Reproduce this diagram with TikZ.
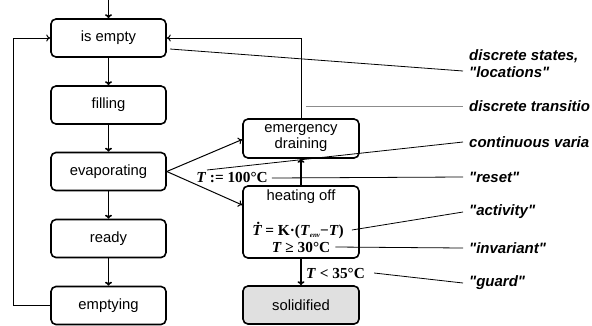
\documentclass[tikz,border=0pt]{standalone}
\usepackage{fontspec}
\setmainfont{Liberation Sans}
\newfontfamily\timesfont{Liberation Serif}
\usetikzlibrary{arrows.meta,calc}

\begin{document}
\begin{tikzpicture}[x=1pt,y=-1pt,
  zustand/.style={draw,line width=1.6pt,rounded corners=5pt,minimum width=115pt,minimum height=38pt,
    align=center,inner sep=1pt,font=\fontsize{14.8}{16}\selectfont},
  pfeil/.style={line width=1.6pt,-{To[length=4pt,width=7pt]}},
  duenn/.style={line width=1pt,-{To[length=4pt,width=7pt]}},
  hinweis/.style={line width=0.8pt},
  notiz/.style={anchor=west,inner sep=0pt,align=left,font=\fontsize{15}{17}\selectfont\bfseries\itshape},
  formel/.style={inner sep=0pt,font=\fontsize{15.3}{17}\selectfont\timesfont\bfseries}]

  \useasboundingbox (0,0) rectangle (592,325);

  \pgfmathsetmacro{\links}{108.5}
  \pgfmathsetmacro{\rechts}{301}

  % linke Spalte
  \node[zustand] (leer) at (\links,38) {is empty};
  \node[zustand] (fuellen) at (\links,105) {filling};
  \node[zustand] (verdampfen) at (\links,171.5) {evaporating};
  \node[zustand] (bereit) at (\links,238.5) {ready};
  \node[zustand] (entleeren) at (\links,305.5) {emptying};

  % rechte Spalte
  \node[zustand,minimum width=116pt,minimum height=39pt] (notablass) at (\rechts,138.5) {emergency\\draining};
  \node[zustand,minimum width=116pt,minimum height=72pt] (heizaus) at (\rechts,222) {};
  \node[zustand,minimum width=116pt,fill=black!12] (fest) at (\rechts,305) {solidified};

  \node[font=\fontsize{14.8}{16}\selectfont,inner sep=0pt] (heiztitel) at (\rechts,197) {heating off};
  \node[formel] (aktiv) at (298,230) {{\itshape\.{T}} = K·(\textit{T}\raisebox{-2.5pt}{\fontsize{7}{7}\selectfont\itshape env}−\textit{T})};
  \node[formel] (invar) at (\rechts,247) {\textit{T} ≥ 30°C};
  \node[formel] (ruecksetz) at (232,178) {\textit{T} := 100°C};
  \node[formel,anchor=west] (waechter) at (306,273) {\textit{T} < 35°C};

  \coordinate (start) at (\links,0);
  \draw[pfeil] (start) -- (leer);
  \draw[pfeil] (leer) -- (fuellen);
  \draw[pfeil] (fuellen) -- (verdampfen);
  \draw[pfeil] (verdampfen) -- (bereit);
  \draw[pfeil] (bereit) -- (entleeren);
  \draw[duenn] (entleeren.west) -- ++(-37,0) |- (leer.west);

  \draw[duenn] (verdampfen.east) -- ($(notablass.west)+(0,1)$);
  \draw[duenn] (verdampfen.east) -- ($(heizaus.west)+(0,-17)$);
  \draw[pfeil] (heizaus) -- (notablass);
  \draw[duenn] (notablass.north) |- (leer.east);
  \draw[pfeil] (heizaus) -- (fest);

  % Erklaerungen
  \node[notiz] (zustaende) at (469,64) {discrete states,\\\textquotedbl locations\textquotedbl};
  \node[notiz] (uebergang) at (469,106) {discrete transitio};
  \node[notiz] (variable) at (469,142) {continuous varia};
  \node[notiz] (reset) at (469,177) {\textquotedbl reset\textquotedbl};
  \node[notiz] (aktivitaet) at (469,212) {\textquotedbl activity\textquotedbl};
  \node[notiz] (invariante) at (469,248) {\textquotedbl invariant\textquotedbl};
  \node[notiz] (guard) at (469,283) {\textquotedbl guard\textquotedbl};

  \draw[hinweis] (170,49) -- (463,71);
  \draw[hinweis,black!45] (306,106) -- (463,106);
  \draw[hinweis] (207,170) -- (463,142);
  \draw[hinweis] (ruecksetz.east)++(4,0) -- (463,177);
  \draw[hinweis] (aktiv.east)++(8,0) -- (463,212);
  \draw[hinweis] (invar.east)++(5,0) -- (463,248);
  \draw[hinweis] (waechter.east)++(9,0) -- (463,283);
\end{tikzpicture}
\end{document}
